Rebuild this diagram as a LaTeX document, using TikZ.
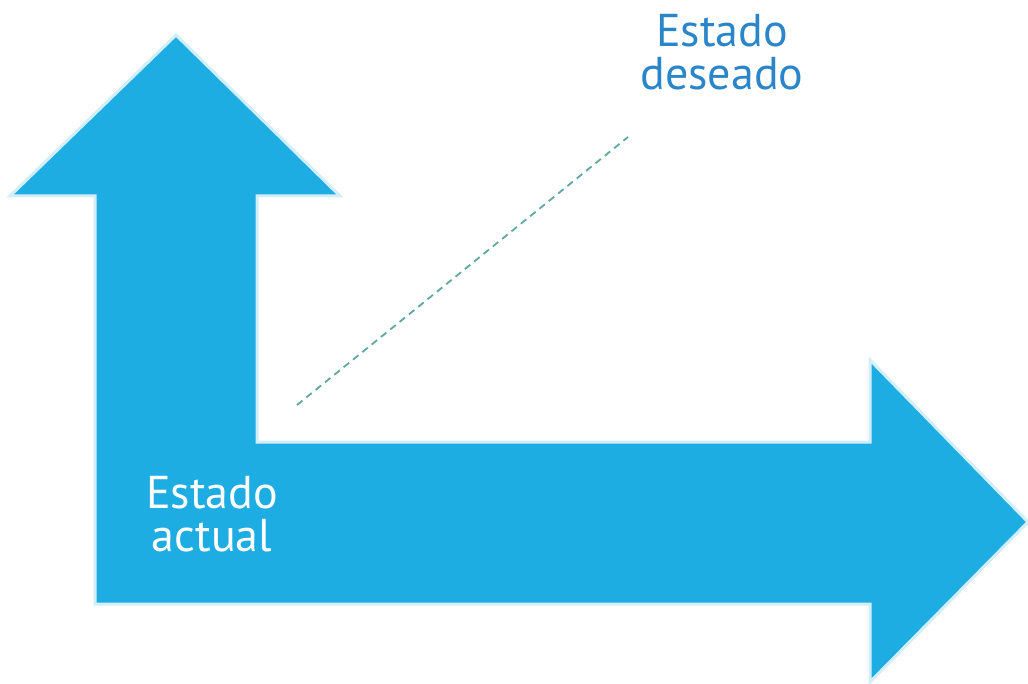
\documentclass[tikz,border=0pt]{standalone}
\usepackage{fontspec}
\setmainfont{PT Sans}
\definecolor{arrowfill}{HTML}{1EADE3}
\definecolor{arrowedge}{HTML}{D2EEF9}
\definecolor{dashcol}{HTML}{5FA8A0}
\definecolor{titlecol}{HTML}{2A86C8}
\begin{document}
\begin{tikzpicture}[x=1pt,y=-1pt,
  bentarrow/.style={fill=arrowfill,draw=arrowedge,line width=3pt,line join=miter},
  guide/.style={draw=dashcol,line width=1.8pt,dash pattern=on 7pt off 5pt},
  lbl/.style={font=\fontsize{46}{43}\selectfont,align=center,inner sep=0pt}]
\useasboundingbox (0,0) rectangle (1028,684);
\draw[bentarrow] (95,604) -- (95,196) -- (10,196) -- (176,35) -- (340,196) -- (257,196)
  -- (257,442) -- (870,442) -- (870,360) -- (1028,522) -- (870,682) -- (870,604) -- cycle;
\coordinate (g1) at (297,405);
\coordinate (g2) at (628,137);
\draw[guide] (g1) -- (g2);
\node[lbl,text=titlecol,anchor=base] (des) at (722,90) {Estado\\deseado};
\node[lbl,text=white,anchor=base] (act) at (212,551) {Estado\\actual};
\end{tikzpicture}
\end{document}
